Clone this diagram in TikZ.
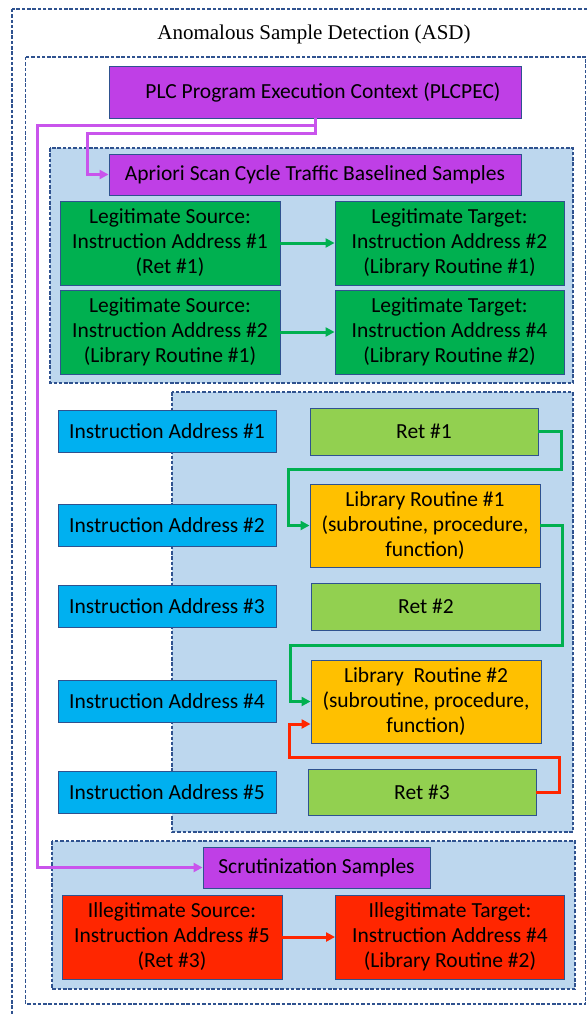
\documentclass[tikz,border=0pt]{standalone}
\usepackage{fontspec}
\setmainfont{Carlito}
\newfontfamily\titlefont{Liberation Serif}
\usetikzlibrary{arrows.meta}

\definecolor{dashblue}{RGB}{47,82,143}
\definecolor{regionblue}{RGB}{189,215,238}
\definecolor{plcpurple}{RGB}{191,63,230}
\definecolor{linkpurple}{RGB}{201,84,236}
\definecolor{legitgreen}{RGB}{0,176,80}
\definecolor{addrblue}{RGB}{0,176,240}
\definecolor{retgreen}{RGB}{146,208,80}
\definecolor{liborange}{RGB}{255,192,0}
\definecolor{badred}{RGB}{255,38,0}

\begin{document}
\begin{tikzpicture}[x=1pt,y=-1pt,
  every node/.style={font=\fontsize{21.5}{25}\selectfont,align=center,inner sep=0pt},
  box/.style={draw=dashblue,line width=0.9pt,minimum height=#1},
  region/.style={draw=dashblue,line width=1.1pt,dash pattern=on 3.5pt off 1.8pt},
  link/.style={line width=3pt,-{Triangle[length=9pt,width=9pt]}}]
\useasboundingbox (0,0) rectangle (588,1014);
\clip (0,0) rectangle (588,1014);

% frames and shaded groups
\draw[region] (12,9) rectangle (620,1040);
\draw[region] (25.6,57) rectangle (585.7,1004);
\foreach \x/\y/\X/\Y in {50/148/573/383, 172/392/573/832, 52/841/575/989}
    \draw[region,fill=regionblue] (\x,\y) rectangle (\X,\Y);

\node[anchor=base,font=\titlefont\fontsize{21}{25}\selectfont] (asd) at (314,40) {Anomalous Sample Detection (ASD)};

\node[box=52,fill=plcpurple,minimum width=412] (plc) at (315,92) {\hspace{16pt}PLC Program Execution Context (PLCPEC)};
\node[box=41,fill=plcpurple,minimum width=412] (apr) at (315,174.5) {Apriori Scan Cycle Traffic Baselined Samples};

% baselined samples
\node[box=84,fill=legitgreen,minimum width=220] (src1) at (170,243) {Legitimate Source:\\Instruction Address \#1\\(Ret \#1)};
\node[box=84,fill=legitgreen,minimum width=229] (tgt1) at (449.5,243) {Legitimate Target:\\Instruction Address \#2\\(Library Routine \#1)};
\node[box=84,fill=legitgreen,minimum width=220] (src2) at (170,332) {Legitimate Source:\\Instruction Address \#2\\(Library Routine \#1)};
\node[box=84,fill=legitgreen,minimum width=229] (tgt2) at (449.5,332) {Legitimate Target:\\Instruction Address \#4\\(Library Routine \#2)};

% program layout
\foreach \i/\y in {1/431, 2/525, 3/606, 4/701.5, 5/792.5}
    \node[box=42,fill=addrblue,minimum width=218] (ia\i) at (167,\y) {Instruction Address \#\i};

\node[box=47,fill=retgreen,minimum width=228] (ret1) at (424,431.5) {Ret \#1};
\node[box=83,fill=liborange,minimum width=230] (lib1) at (425,525.5) {Library Routine \#1\\(subroutine, procedure,\\function)};
\node[box=47,fill=retgreen,minimum width=229] (ret2) at (426,606.5) {Ret \#2};
\node[box=83,fill=liborange,minimum width=230] (lib2) at (426,701.5) {Library\ \ Routine \#2\\(subroutine, procedure,\\function)};
\node[box=46,fill=retgreen,minimum width=228] (ret3) at (422,792) {Ret \#3};

% scrutinization samples
\node[box=41,fill=plcpurple,minimum width=227] (scr) at (316.5,867.5) {Scrutinization Samples};
\node[box=84,fill=badred,minimum width=220] (bsrc) at (172,937) {Illegitimate Source:\\Instruction Address \#5\\(Ret \#3)};
\node[box=84,fill=badred,minimum width=229] (btgt) at (450,937) {Illegitimate Target:\\Instruction Address \#4\\(Library Routine \#2)};

% connectors
\draw[link,linkpurple] (plc.south) |- (37.6,126) |- (scr.west);
\draw[link,linkpurple] (plc.south) |- (87.7,134) |- (apr.west);

\foreach \a/\b in {src1/tgt1, src2/tgt2}
    \draw[link,legitgreen] (\a) -- (\b);
\draw[link,badred] (bsrc) -- (btgt);

\draw[link,legitgreen] (ret1.east) -| (561,469) -- (288,469) |- (lib1.west);
\draw[link,legitgreen] (lib1.east) -| (562,645) -- (290,645) |- (lib2.west);
\draw[link,badred] (ret3.east) -| (559,757) -- (289,757) |- (lib2.west |- 0,724);

\end{tikzpicture}
\end{document}
